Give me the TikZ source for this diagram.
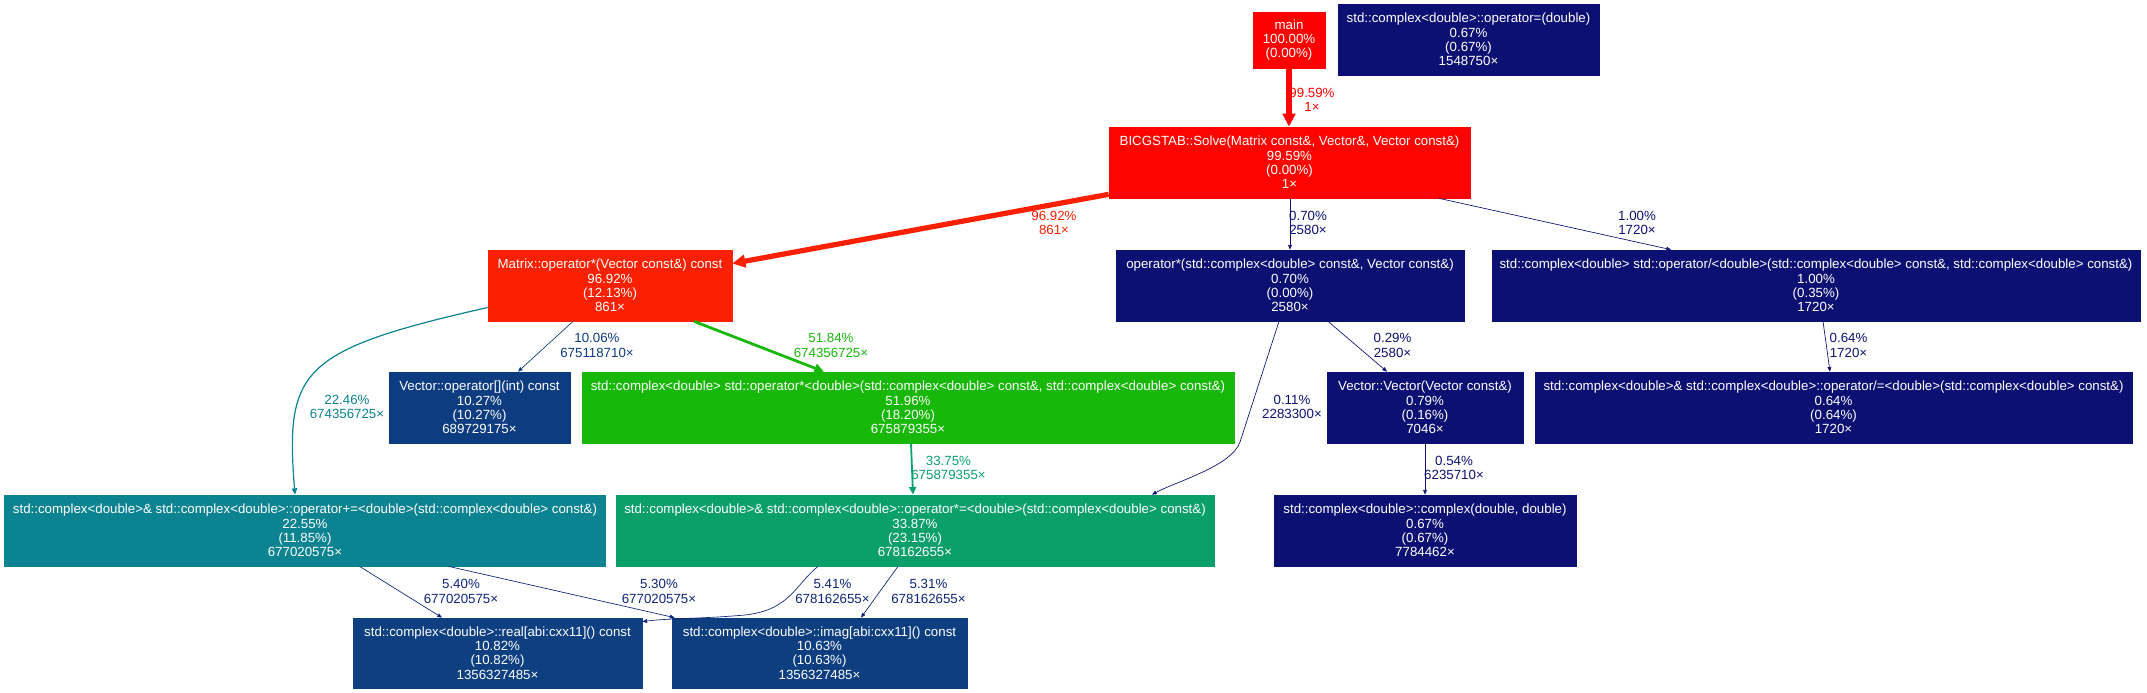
\documentclass[tikz,border=0pt]{standalone}
\usepackage{fontspec}
\setmainfont{Liberation Sans}
\usetikzlibrary{arrows.meta}
\definecolor{cMain}{HTML}{FF0000}
\definecolor{cBicg}{HTML}{FE0400}
\definecolor{cMat}{HTML}{FA2001}
\definecolor{cMul}{HTML}{17B809}
\definecolor{cMulEq}{HTML}{0B9F6B}
\definecolor{cPlus}{HTML}{0C8390}
\definecolor{cReal}{HTML}{0D3F81}
\definecolor{cImag}{HTML}{0D3E80}
\definecolor{cIdx}{HTML}{0D3C80}
\definecolor{cNavy}{HTML}{0D1073}
\definecolor{cEidx}{HTML}{0D3B80}
\definecolor{cEfive}{HTML}{0D247A}
\newcommand\gvfont{\fontsize{13.3}{14.4}\selectfont}
\tikzset{
  fn/.style={rectangle, inner sep=0pt, align=center, text=white, font=\gvfont, minimum height=71pt, line width=0.7pt},
  elabel/.style={inner sep=0pt, align=center, font=\gvfont},
  wthin/.style={line width=0.67pt, -{Triangle[length=4.7pt,width=3.8pt]}},
  wplus/.style={line width=1.2pt, -{Triangle[length=6.3pt,width=5.5pt]}},
  wmuleq/.style={line width=1.8pt, -{Triangle[length=7.7pt,width=7pt]}},
  wmul/.style={line width=2.76pt, -{Triangle[length=9.6pt,width=9pt]}},
  wthick/.style={line width=5.2pt, -{Triangle[length=13pt,width=12.5pt]}},
}
\begin{document}
\begin{tikzpicture}[x=1pt,y=-1pt]
\useasboundingbox (0,0) rectangle (2147,693);
% nodes
\node[fn, fill=cMain, draw=cMain, minimum width=72pt, minimum height=56pt] (main) at (1289,40) {main\\100.00\%\\(0.00\%)};
\node[fn, fill=cNavy, draw=cNavy, minimum width=261pt] (opeq) at (1468.5,39.5) {std::complex<double>::operator=(double)\\0.67\%\\(0.67\%)\\1548750×};
\node[fn, fill=cBicg, draw=cBicg, minimum width=361pt] (bicg) at (1289.5,162.5) {BICGSTAB::Solve(Matrix const\&, Vector\&, Vector const\&)\\99.59\%\\(0.00\%)\\1×};
\node[fn, fill=cMat, draw=cMat, minimum width=244pt] (matrix) at (610,285.5) {Matrix::operator*(Vector const\&) const\\96.92\%\\(12.13\%)\\861×};
\node[fn, fill=cNavy, draw=cNavy, minimum width=348pt] (opcv) at (1290,285.5) {operator*(std::complex<double> const\&, Vector const\&)\\0.70\%\\(0.00\%)\\2580×};
\node[fn, fill=cNavy, draw=cNavy, minimum width=648pt] (opdiv) at (1816,285.5) {std::complex<double> std::operator/<double>(std::complex<double> const\&, std::complex<double> const\&)\\1.00\%\\(0.35\%)\\1720×};
\node[fn, fill=cIdx, draw=cIdx, minimum width=181pt] (vecidx) at (479.5,407.5) {Vector::operator[](int) const\\10.27\%\\(10.27\%)\\689729175×};
\node[fn, fill=cMul, draw=cMul, minimum width=652pt] (opmul) at (908,407.5) {std::complex<double> std::operator*<double>(std::complex<double> const\&, std::complex<double> const\&)\\51.96\%\\(18.20\%)\\675879355×};
\node[fn, fill=cNavy, draw=cNavy, minimum width=196pt] (veccopy) at (1425,407.5) {Vector::Vector(Vector const\&)\\0.79\%\\(0.16\%)\\7046×};
\node[fn, fill=cNavy, draw=cNavy, minimum width=597pt] (opdiveq) at (1833.5,407.5) {std::complex<double>\& std::complex<double>::operator/=<double>(std::complex<double> const\&)\\0.64\%\\(0.64\%)\\1720×};
\node[fn, fill=cPlus, draw=cPlus, minimum width=601pt] (opplus) at (305,530.5) {std::complex<double>\& std::complex<double>::operator+=<double>(std::complex<double> const\&)\\22.55\%\\(11.85\%)\\677020575×};
\node[fn, fill=cMulEq, draw=cMulEq, minimum width=598pt] (opmuleq) at (915,530.5) {std::complex<double>\& std::complex<double>::operator*=<double>(std::complex<double> const\&)\\33.87\%\\(23.15\%)\\678162655×};
\node[fn, fill=cNavy, draw=cNavy, minimum width=302pt] (cplx) at (1425,530.5) {std::complex<double>::complex(double, double)\\0.67\%\\(0.67\%)\\7784462×};
\node[fn, fill=cReal, draw=cReal, minimum width=289pt, minimum height=70pt] (real) at (497.5,653) {std::complex<double>::real[abi:cxx11]() const\\10.82\%\\(10.82\%)\\1356327485×};
\node[fn, fill=cImag, draw=cImag, minimum width=295pt, minimum height=70pt] (imag) at (819.5,653) {std::complex<double>::imag[abi:cxx11]() const\\10.63\%\\(10.63\%)\\1356327485×};
% edges
\draw[wthick, draw=cBicg] (main.south) -- (bicg.north -| main.south);
\draw[wthick, draw=cMat] ([yshift=4pt]bicg.south west) -- ([yshift=22pt]matrix.east);
\draw[wthin, draw=cNavy] (bicg.south -| opcv.north) -- (opcv.north);
\draw[wthin, draw=cNavy] ([xshift=149.5pt]bicg.south) -- ([xshift=-145pt]opdiv.north);
\draw[wthin, draw=cEidx] ([xshift=-37pt]matrix.south) -- ([xshift=38.5pt]vecidx.north);
\draw[wmul, draw=cMul] ([xshift=84pt]matrix.south) -- ([xshift=-84pt]opmul.north);
\draw[wplus, draw=cPlus] ([yshift=-22pt]matrix.west) .. controls (300,350) and (285,370) .. ([xshift=-10pt]opplus.north);
\draw[wmuleq, draw=cMulEq] ([xshift=3pt]opmul.south) -- ([xshift=-2pt]opmuleq.north);
\draw[wthin, draw=cNavy] ([xshift=-11pt]opcv.south) -- (1240,442) .. controls (1232,466) and (1175,482) .. ([xshift=237pt]opmuleq.north);
\draw[wthin, draw=cNavy] ([xshift=38pt]opcv.south) -- ([xshift=-38pt]veccopy.north);
\draw[wthin, draw=cNavy] ([xshift=7pt]opdiv.south) -- ([xshift=-3.5pt]opdiveq.north);
\draw[wthin, draw=cNavy] (veccopy.south) -- (cplx.north);
\draw[wthin, draw=cEfive] ([xshift=54.5pt]opplus.south) -- ([xshift=-55.5pt]real.north);
\draw[wthin, draw=cEfive] ([xshift=143.5pt]opplus.south) -- ([xshift=3pt]imag.north west);
\draw[wthin, draw=cEfive] ([xshift=-97pt]opmuleq.south) .. controls (795,585) and (790,610) .. (745,615) .. controls (700,619) and (670,618) .. ([yshift=-4pt]real.north east);
\draw[wthin, draw=cEfive] ([xshift=-17pt]opmuleq.south) -- ([xshift=41.5pt]imag.north);
% edge labels
\node[elabel, text=cBicg] (l1) at (1312,100) {99.59\%\\1×};
\node[elabel, text=cMat] (l2) at (1054,223) {96.92\%\\861×};
\node[elabel, text=cNavy] (l3) at (1308,223) {0.70\%\\2580×};
\node[elabel, text=cNavy] (l4) at (1637,223) {1.00\%\\1720×};
\node[elabel, text=cEidx] (l5) at (597,345.5) {10.06\%\\675118710×};
\node[elabel, text=cMul] (l6) at (831,345.5) {51.84\%\\674356725×};
\node[elabel, text=cPlus] (l7) at (347,407) {22.46\%\\674356725×};
\node[elabel, text=cMulEq] (l8) at (948.5,468) {33.75\%\\675879355×};
\node[elabel, text=cNavy] (l9) at (1292,407) {0.11\%\\2283300×};
\node[elabel, text=cNavy] (l10) at (1392.5,345.5) {0.29\%\\2580×};
\node[elabel, text=cNavy] (l11) at (1848.5,345.5) {0.64\%\\1720×};
\node[elabel, text=cNavy] (l12) at (1454,468) {0.54\%\\6235710×};
\node[elabel, text=cEfive] (l13) at (461,591.5) {5.40\%\\677020575×};
\node[elabel, text=cEfive] (l14) at (659,591.5) {5.30\%\\677020575×};
\node[elabel, text=cEfive] (l15) at (832.5,591.5) {5.41\%\\678162655×};
\node[elabel, text=cEfive] (l16) at (928.5,591.5) {5.31\%\\678162655×};
\end{tikzpicture}
\end{document}
